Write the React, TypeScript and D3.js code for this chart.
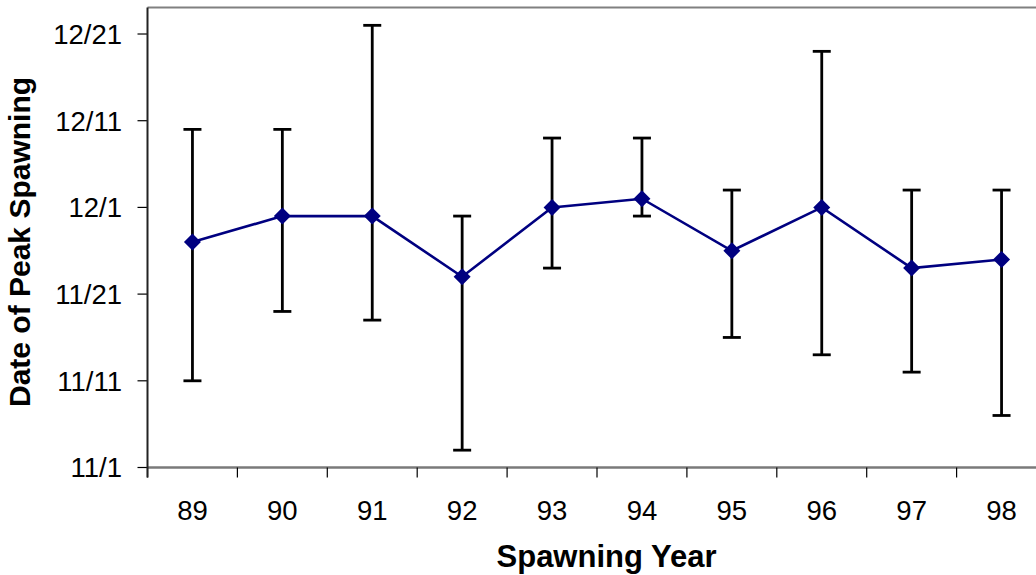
import React from "react";
import * as d3 from "d3";

// Spawning years (category axis)
const years = ["89", "90", "91", "92", "93", "94", "95", "96", "97", "98"];
// Date of peak spawning for each year
const peakDates = ["11/27", "11/30", "11/30", "11/23", "12/1", "12/2", "11/26", "12/1", "11/24", "11/25"];
// Lower end of each error bar
const earliestDates = ["11/11", "11/19", "11/18", "11/3", "11/24", "11/30", "11/16", "11/14", "11/12", "11/7"];
// Upper end of each error bar
const latestDates = ["12/10", "12/10", "12/22", "11/30", "12/9", "12/9", "12/3", "12/19", "12/3", "12/3"];
// Value axis tick labels and axis limits
const yTickLabels = ["11/1", "11/11", "11/21", "12/1", "12/11", "12/21"];
const yAxisMin = "11/1";
const yAxisMax = "12/24";

const parse = d3.timeParse("%m/%d");
const fmt = d3.timeFormat("%-m/%-d");

const W = 1036;
const H = 575;
const plot = { left: 147.5, right: 1046.5, top: 7.5, bottom: 467.5 };
const FONT = "'Liberation Sans', Arial, sans-serif";

function diamond(cx: number, cy: number, r: number) {
  return `M${cx},${cy - r}L${cx + r},${cy}L${cx},${cy + r}L${cx - r},${cy}Z`;
}

export default function App() {
  const x = d3.scaleBand<string>().domain(years).range([plot.left, plot.right]).padding(0);
  const y = d3
    .scaleTime()
    .domain([parse(yAxisMin) as Date, parse(yAxisMax) as Date])
    .range([plot.bottom, plot.top + 0.5]);

  const cx = (yr: string) => (x(yr) as number) + x.bandwidth() / 2;
  const points = years.map((yr, i) => ({
    yr,
    peak: parse(peakDates[i]) as Date,
    lo: parse(earliestDates[i]) as Date,
    hi: parse(latestDates[i]) as Date,
  }));

  const line = d3
    .line<(typeof points)[number]>()
    .x((d) => cx(d.yr))
    .y((d) => y(d.peak));

  const xTickPositions = years.map((yr) => x(yr) as number);

  return (
    <div style={{ position: "absolute", left: 0, top: 0 }}>
      <svg width={W} height={H} style={{ display: "block", background: "#fff" }}>
        {/* plot area border */}
        <line x1={plot.left} x2={W + 20} y1={plot.top} y2={plot.top} stroke="#808080" strokeWidth={2} />
        <line x1={plot.right} x2={plot.right} y1={plot.top} y2={plot.bottom} stroke="#808080" strokeWidth={2} />

        {/* value axis */}
        {yTickLabels.map((t) => {
          const v = y(parse(t) as Date);
          return (
            <g key={t}>
              <line x1={plot.left - 10} x2={plot.left} y1={v} y2={v} stroke="#000" strokeWidth={1.2} />
              <text
                x={122}
                y={v + 9.8}
                textAnchor="end"
                fontFamily={FONT}
                fontSize={27.5}
                fill="#000"
              >
                {fmt(parse(t) as Date)}
              </text>
            </g>
          );
        })}

        {/* category axis */}
        <line x1={plot.left} x2={W + 20} y1={plot.bottom} y2={plot.bottom} stroke="#7a7a7a" strokeWidth={2.4} />
        {xTickPositions.map((px, i) => (
          <line key={i} x1={px} x2={px} y1={plot.bottom} y2={plot.bottom + 10} stroke="#000" strokeWidth={1.2} />
        ))}
        {years.map((yr) => (
          <text
            key={yr}
            x={cx(yr)}
            y={520}
            textAnchor="middle"
            fontFamily={FONT}
            fontSize={27.5}
            fill="#000"
          >
            {yr}
          </text>
        ))}
        <line x1={plot.left} x2={plot.left} y1={plot.top} y2={plot.bottom + 10} stroke="#222" strokeWidth={2} />

        {/* error bars */}
        {points.map((d) => {
          const c = cx(d.yr);
          return (
            <g key={d.yr} stroke="#000" strokeWidth={2.8}>
              <line x1={c} x2={c} y1={y(d.lo)} y2={y(d.hi)} />
              <line x1={c - 9} x2={c + 9} y1={y(d.lo)} y2={y(d.lo)} />
              <line x1={c - 9} x2={c + 9} y1={y(d.hi)} y2={y(d.hi)} />
            </g>
          );
        })}

        {/* peak spawning series */}
        <path d={line(points) as string} fill="none" stroke="#000080" strokeWidth={2.6} />
        {points.map((d) => (
          <path key={d.yr} d={diamond(cx(d.yr), y(d.peak), 8.5)} fill="#000080" />
        ))}

        {/* axis titles */}
        <text
          x={606.5}
          y={567}
          textAnchor="middle"
          fontFamily={FONT}
          fontWeight="bold"
          fontSize={31}
          fill="#000"
        >
          Spawning Year
        </text>
        <text
          transform={`translate(30,242) rotate(-90)`}
          textAnchor="middle"
          fontFamily={FONT}
          fontWeight="bold"
          fontSize={30}
          fill="#000"
        >
          Date of Peak Spawning
        </text>
      </svg>
    </div>
  );
}
